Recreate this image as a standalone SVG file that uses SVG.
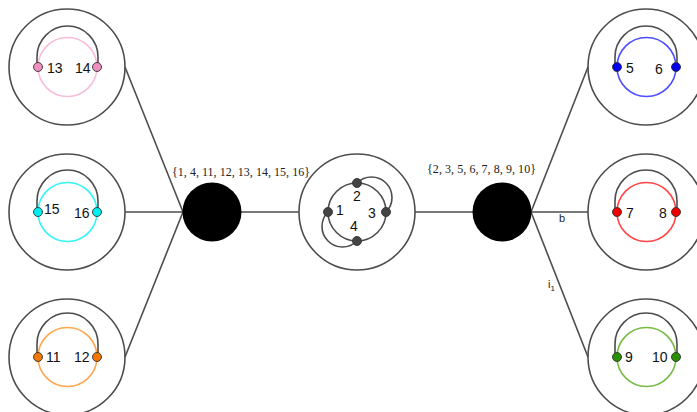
<svg xmlns="http://www.w3.org/2000/svg" width="697" height="412" viewBox="0 0 697 412">
<style>
.outer{fill:none;stroke:#4d4d4d;stroke-width:1.6}
.arc{fill:none;stroke:#4d4d4d;stroke-width:1.6}
.ring{fill:none;stroke-width:1.6}
.dot{stroke:#333;stroke-width:0.9}
.edge{stroke:#4d4d4d;stroke-width:1.6;fill:none}
.num{font-family:"Liberation Sans",Arial,sans-serif;font-size:14px;fill:#111}
.set{font-family:"Liberation Serif","Times New Roman",serif;font-size:12px;fill:#222}
.lab{font-family:"Liberation Sans",Arial,sans-serif;font-size:11px;fill:#222}
</style>
<rect width="697" height="412" fill="#fff"/>
<g id="connectors">
<line class="edge" x1="125" y1="67" x2="183" y2="212"/>
<line class="edge" x1="125" y1="212" x2="183" y2="212"/>
<line class="edge" x1="125" y1="357" x2="183" y2="212"/>
<line class="edge" x1="241" y1="212" x2="299" y2="212"/>
<line class="edge" x1="415" y1="212" x2="473" y2="212"/>
<line class="edge" x1="531" y1="212" x2="588" y2="67"/>
<line class="edge" x1="531" y1="212" x2="588" y2="212"/>
<line class="edge" x1="531" y1="212" x2="588" y2="357"/>
<text class="lab" x="559" y="222">b</text>
<text class="lab" x="548" y="288">i<tspan font-size="8" dy="3">1</tspan></text>
</g>
<g id="node13-14">
<circle class="outer" cx="67" cy="67" r="58"/>
<circle class="ring" cx="67.5" cy="67" r="29.5" stroke="#f9bcd9"/>
<path class="arc" d="M37,67 V57 A30.5,31 0 0 1 98,57 V67"/>
<circle class="dot" cx="38" cy="67" r="4.5" fill="#ee8fbf"/>
<circle class="dot" cx="97" cy="67" r="4.5" fill="#ee8fbf"/>
<text class="num" x="47" y="73">13</text>
<text class="num" x="75" y="73">14</text>
</g>
<g id="node15-16">
<circle class="outer" cx="67" cy="212" r="58"/>
<circle class="ring" cx="67.5" cy="212" r="29.5" stroke="#33f5f5"/>
<path class="arc" d="M37,212 V201 A30.5,31 0 0 1 98,201 V212"/>
<circle class="dot" cx="38" cy="212" r="4.5" fill="#00eeee"/>
<circle class="dot" cx="97" cy="212" r="4.5" fill="#00eeee"/>
<text class="num" x="44" y="214">15</text>
<text class="num" x="74" y="218">16</text>
</g>
<g id="node11-12">
<circle class="outer" cx="67" cy="357" r="58"/>
<circle class="ring" cx="67.5" cy="357" r="29.5" stroke="#ffa64d"/>
<path class="arc" d="M37,357 V344 A30.5,31 0 0 1 98,344 V357"/>
<circle class="dot" cx="38" cy="357" r="4.5" fill="#f07800"/>
<circle class="dot" cx="97" cy="357" r="4.5" fill="#f07800"/>
<text class="num" x="46" y="362">11</text>
<text class="num" x="74" y="362">12</text>
</g>
<g id="bag-left">
<circle cx="212" cy="212" r="29.5" fill="#000"/>
<text class="set" x="172" y="176" textLength="138">{1, 4, 11, 12, 13, 14, 15, 16}</text>
</g>
<g id="node-center">
<circle class="outer" cx="357" cy="212" r="58"/>
<circle class="ring" cx="357" cy="212" r="29" stroke="#4d4d4d"/>
<path class="arc" d="M357,183 A20.5,20.5 0 0 1 386,212"/>
<path class="arc" d="M357,241 A20.5,20.5 0 0 1 328,212"/>
<circle class="dot" cx="328" cy="212" r="4.5" fill="#444"/>
<circle class="dot" cx="357" cy="183" r="4.5" fill="#444"/>
<circle class="dot" cx="386" cy="212" r="4.5" fill="#444"/>
<circle class="dot" cx="357" cy="241" r="4.5" fill="#444"/>
<text class="num" x="336" y="215">1</text>
<text class="num" x="353" y="201">2</text>
<text class="num" x="368" y="218">3</text>
<text class="num" x="350" y="231">4</text>
</g>
<g id="bag-right">
<circle cx="502" cy="212" r="29.5" fill="#000"/>
<text class="set" x="427" y="173" textLength="109">{2, 3, 5, 6, 7, 8, 9, 10}</text>
</g>
<g id="node5-6">
<circle class="outer" cx="646" cy="67" r="58"/>
<circle class="ring" cx="646.5" cy="67" r="29.5" stroke="#4d4dff"/>
<path class="arc" d="M615,67 V57 A31,31 0 0 1 677,57 V67"/>
<circle class="dot" cx="617" cy="67" r="4.5" fill="#0000ee"/>
<circle class="dot" cx="676" cy="67" r="4.5" fill="#0000ee"/>
<text class="num" x="626" y="73">5</text>
<text class="num" x="655" y="74">6</text>
</g>
<g id="node7-8">
<circle class="outer" cx="646" cy="212" r="58"/>
<circle class="ring" cx="646.5" cy="212" r="29.5" stroke="#ff4545"/>
<path class="arc" d="M615,212 V201 A31,31 0 0 1 677,201 V212"/>
<circle class="dot" cx="617" cy="212" r="4.5" fill="#ee0000"/>
<circle class="dot" cx="676" cy="212" r="4.5" fill="#ee0000"/>
<text class="num" x="626" y="218">7</text>
<text class="num" x="659" y="218">8</text>
</g>
<g id="node9-10">
<circle class="outer" cx="646" cy="357" r="58"/>
<circle class="ring" cx="646.5" cy="357" r="29.5" stroke="#77bb44"/>
<path class="arc" d="M615,357 V344 A31,31 0 0 1 677,344 V357"/>
<circle class="dot" cx="617" cy="357" r="4.5" fill="#2a9000"/>
<circle class="dot" cx="676" cy="357" r="4.5" fill="#2a9000"/>
<text class="num" x="625" y="362">9</text>
<text class="num" x="652" y="362">10</text>
</g>
</svg>
